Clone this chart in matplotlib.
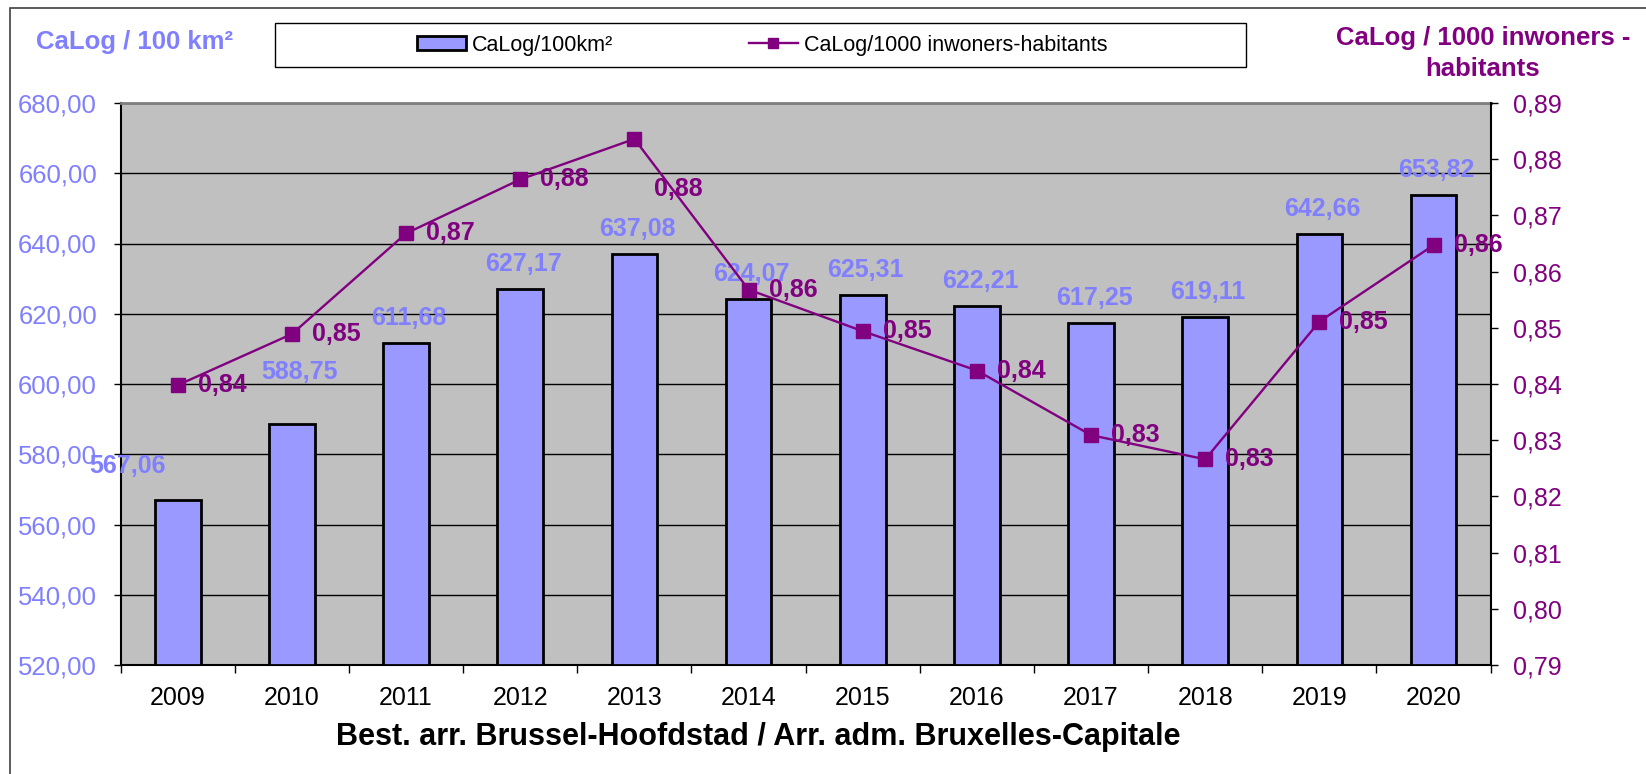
import matplotlib
matplotlib.use('Agg')
import matplotlib.pyplot as plt
import numpy as np
from matplotlib.ticker import FuncFormatter, FixedLocator
from matplotlib.patches import Rectangle, Patch
from matplotlib.lines import Line2D

# ---------------- data ----------------
years = ['2009', '2010', '2011', '2012', '2013', '2014',
         '2015', '2016', '2017', '2018', '2019', '2020']
calog_per_100km2 = [567.06, 588.75, 611.68, 627.17, 637.08, 624.07,
                    625.31, 622.21, 617.25, 619.11, 642.66, 653.82]
calog_per_1000_inh = [0.8398, 0.8489, 0.8668, 0.8764, 0.8836, 0.8568,
                      0.8494, 0.8424, 0.8309, 0.8266, 0.8511, 0.8647]
left_ticks = [520, 540, 560, 580, 600, 620, 640, 660, 680]
right_ticks = [0.79, 0.80, 0.81, 0.82, 0.83, 0.84, 0.85, 0.86, 0.87, 0.88, 0.89]
series_names = ['CaLog/100km²', 'CaLog/1000 inwoners-habitants']
left_title = 'CaLog / 100 km²'
right_title = ['CaLog / 1000 inwoners -', 'habitants']
x_title = 'Best. arr. Brussel-Hoofdstad / Arr. adm. Bruxelles-Capitale'

# ---------------- style ----------------
plt.rcParams['font.family'] = ['Liberation Sans', 'DejaVu Sans']
BAR = '#9999FF'
BLUE_TXT = '#8080FF'
PURPLE = '#800080'
W, H = 1646, 774

def fx(px):
    return px / W

def fy(py):
    return 1 - py / H

def comma(fmt):
    return FuncFormatter(lambda v, p: format(v, fmt).replace('.', ','))

fig = plt.figure(figsize=(W / 100, H / 100), dpi=100)
ax = fig.add_axes([fx(120.7), fy(665), fx(1490.6) - fx(120.7), fy(103) - fy(665)])
ax.set_facecolor('#C0C0C0')

x = np.arange(len(years))
ymin, ymax = left_ticks[0], left_ticks[-1]
heights = np.array(calog_per_100km2) - ymin
ax.bar(x, heights, bottom=ymin, width=0.4, color=BAR, edgecolor='black',
       linewidth=2, zorder=3)
ax.set_xlim(-0.5, len(years) - 0.5)
ax.set_ylim(ymin, ymax)
ax.yaxis.set_major_locator(FixedLocator(left_ticks))
ax.yaxis.set_major_formatter(comma('.2f'))
ax.grid(axis='y', color='black', linewidth=1, zorder=1)
ax.set_axisbelow(True)
ax.tick_params(axis='y', direction='out', length=5, width=1, pad=12,
               labelsize=18.5, labelcolor=BLUE_TXT)
ax.set_xticks(x)
ax.set_xticklabels(years)
ax.tick_params(axis='x', which='major', length=0, pad=15, labelsize=18,
               labelcolor='black')
ax.set_xticks(np.arange(-0.5, len(years) + 0.5, 1), minor=True)
ax.tick_params(axis='x', which='minor', direction='out', length=6, width=1)

for side in ['left', 'bottom']:
    ax.spines[side].set_color('black')
    ax.spines[side].set_linewidth(1.5)
ax.spines['top'].set_color('#808080')
ax.spines['top'].set_linewidth(2)
ax.spines['right'].set_visible(False)

# bar value labels
bar_offsets = {0: (-50, 34), 1: (8, 52)}
for i, v in enumerate(calog_per_100km2):
    off = bar_offsets.get(i, (3, 25))
    ax.annotate(format(v, '.2f').replace('.', ','), (x[i], v),
                xytext=off, textcoords='offset pixels', ha='center',
                va='center', fontsize=18, fontweight='bold', color=BLUE_TXT,
                zorder=4)

# secondary axis
ax2 = ax.twinx()
ax2.set_ylim(right_ticks[0], right_ticks[-1])
ax2.yaxis.set_major_locator(FixedLocator(right_ticks))
ax2.yaxis.set_major_formatter(comma('.2f'))
ax2.plot(x, calog_per_1000_inh, color=PURPLE, linewidth=1.7, marker='s',
         markersize=10, markerfacecolor=PURPLE, markeredgecolor=PURPLE,
         zorder=5)
ax2.tick_params(axis='y', direction='out', length=5, width=1, pad=11,
                labelsize=18, labelcolor=PURPLE)
for side in ['left', 'top', 'bottom']:
    ax2.spines[side].set_visible(False)
ax2.spines['right'].set_color('black')
ax2.spines['right'].set_linewidth(1.5)

line_offsets = {4: (20, -50)}
for i, v in enumerate(calog_per_1000_inh):
    off = line_offsets.get(i, (20, 0))
    ax2.annotate(format(v, '.2f').replace('.', ','), (x[i], v),
                 xytext=off, textcoords='offset pixels', ha='left',
                 va='center', fontsize=18, fontweight='bold', color=PURPLE,
                 zorder=6)

# titles
fig.text(fx(134), fy(42), left_title, ha='center', va='center',
         fontsize=18.5, fontweight='bold', color=BLUE_TXT)
fig.text(fx(1483), fy(38), right_title[0], ha='center', va='center',
         fontsize=18.5, fontweight='bold', color=PURPLE)
fig.text(fx(1483), fy(69), right_title[1], ha='center', va='center',
         fontsize=18.5, fontweight='bold', color=PURPLE)
fig.text(fx(758.5), fy(737), x_title, ha='center', va='center',
         fontsize=22, fontweight='bold', color='black')

# legend
handles = [Patch(facecolor=BAR, edgecolor='black', linewidth=2),
           Line2D([], [], color=PURPLE, linewidth=1.7, marker='s',
                  markersize=7, markerfacecolor=PURPLE,
                  markeredgecolor=PURPLE)]
fig.legend(handles, series_names, loc='center',
           bbox_to_anchor=(fx(762), fy(45)), ncol=2, frameon=False,
           fontsize=15.5, handlelength=2.3, handleheight=0.6,
           handletextpad=0.25, columnspacing=6.3)
fig.add_artist(Rectangle((fx(275), fy(67)), fx(1246) - fx(275),
                         fy(23) - fy(67), transform=fig.transFigure,
                         fill=False, edgecolor='black', linewidth=1))

# outer chart border
fig.add_artist(Rectangle((fx(9.5), -0.2), 1.3, fy(8.3) + 0.2,
                         transform=fig.transFigure, fill=False,
                         edgecolor='#404040', linewidth=1.2))

fig.savefig('out.png', dpi=100, facecolor='white')
